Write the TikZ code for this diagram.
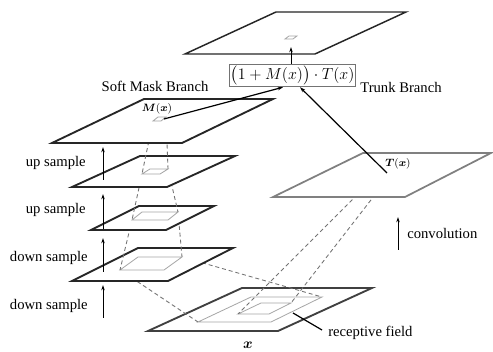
\documentclass[tikz,border=0pt]{standalone}
\usepackage{fontspec}
\setmainfont{Liberation Serif}
\usepackage{amsmath}
\usetikzlibrary{arrows.meta,calc}
\tikzset{
  plane/.style={draw=black!85, line width=1.4pt, fill=white, line join=miter},
  xplane/.style={draw=black!75, line width=1.4pt, fill=white, line join=miter},
  tplane/.style={draw=black!50, line width=1.3pt, fill=white, line join=miter},
  outplane/.style={draw=black!85, line width=1.1pt, fill=white, line join=miter},
  field/.style={draw=black!35, line width=0.6pt},
  proj/.style={draw=black!55, line width=0.65pt, dash pattern=on 3pt off 2.2pt},
  uparrow/.style={draw=black, line width=0.7pt, -{Stealth[length=4pt,width=2.6pt]}},
  lbl/.style={font=\fontsize{11}{13}\selectfont, inner sep=0pt},
  small/.style={font=\fontsize{8.5}{10}\selectfont, inner sep=0pt},
}
\begin{document}
\begin{tikzpicture}[x=0.75pt,y=-0.75pt]
\useasboundingbox (0,0) rectangle (493,352);

% ---- input plane x
\draw[xplane] (242,288) -- (372,288) -- (278,331) -- (148,331) -- cycle;
\coordinate (xoTL) at (251,297); \coordinate (xoTR) at (322,297);
\coordinate (xoBR) at (271,322); \coordinate (xoBL) at (198,322);
\coordinate (xiTL) at (261,303); \coordinate (xiTR) at (291,303);
\coordinate (xiBR) at (269,314); \coordinate (xiBL) at (238,314);
\draw[field] (xoTL) -- (xoTR) -- (xoBR) -- (xoBL) -- cycle;
\draw[field] (xiTL) -- (xiTR) -- (xiBR) -- (xiBL) -- cycle;

% ---- trunk projections
\coordinate (tsL) at (372,180); \coordinate (tsR) at (388,178);
\draw[proj] (tsL) -- (xiBL);
\draw[proj] (tsR) -- (xiTR);

% ---- plane 4
\coordinate (p4BL) at (120,270); \coordinate (p4TL) at (138,257);
\coordinate (p4TR) at (182,257); \coordinate (p4BR) at (164,270);
\draw[proj] (p4BL) -- (xoBL);
\draw[proj] (p4TR) -- (xoTR);
\draw[plane] (138,248) -- (233,248) -- (168,281) -- (72,281) -- cycle;
\draw[field] (p4BL) -- (p4TL) -- (p4TR) -- (p4BR) -- cycle;

% ---- plane 3
\coordinate (p3BL) at (132,220); \coordinate (p3TL) at (142,212);
\coordinate (p3TR) at (178,212); \coordinate (p3BR) at (168,220);
\draw[proj] (p3BL) -- (p4BL);
\draw[proj] (p3TR) -- (p4TR);
\draw[plane] (139,206) -- (214,206) -- (166,230) -- (91,230) -- cycle;
\draw[field] (p3BL) -- (p3TL) -- (p3TR) -- (p3BR) -- cycle;

% ---- plane 2
\coordinate (p2BL) at (142,174); \coordinate (p2TL) at (150,169);
\coordinate (p2TR) at (168,169); \coordinate (p2BR) at (160,174);
\draw[proj] (p2BL) -- (p3BL);
\draw[proj] (p2TR) -- (p3TR);
\draw[plane] (140,156) -- (235,156) -- (167,187) -- (72,187) -- cycle;
\draw[field] (p2BL) -- (p2TL) -- (p2TR) -- (p2BR) -- cycle;

% ---- plane 1 (M(x))
\coordinate (p1BL) at (153,121); \coordinate (p1TL) at (158,117);
\coordinate (p1TR) at (166,117); \coordinate (p1BR) at (161,121);
\draw[proj] (p1BL) -- (p2BL);
\draw[proj] (p1TR) -- (p2TR);
\draw[plane] (144,99) -- (273,99) -- (182,143) -- (52,143) -- cycle;
\draw[field] (p1BL) -- (p1TL) -- (p1TR) -- (p1BR) -- cycle;
\node[small] (mlbl) at (157,109) {$\boldsymbol{M}(\boldsymbol{x})$};

% ---- trunk plane T(x)
\draw[tplane] (363,153) -- (491,153) -- (405,197) -- (273,197) -- cycle;
\node[small] (tlbl) at (398,164) {$\boldsymbol{T}(\boldsymbol{x})$};
\coordinate (tsrc) at (387,173);

% ---- output plane
\draw[outplane] (276,12) -- (406,12) -- (315,54) -- (185,54) -- cycle;
\coordinate (oBL) at (285,39); \coordinate (oTL) at (289,36);
\coordinate (oTR) at (297,36); \coordinate (oBR) at (293,39);
\draw[field] (oBL) -- (oTL) -- (oTR) -- (oBR) -- cycle;
\coordinate (otgt) at (291,47);

% ---- formula box
\node[draw=black!55, line width=0.6pt, fill=white, minimum width=91pt,
      minimum height=17pt, inner sep=1pt, font=\fontsize{12}{14}\selectfont]
  (fbox) at (292.5,75.5) {$\bigl(1+M(x)\bigr)\cdot T(x)$};

% ---- connectors to/from formula
\coordinate (msrc) at (164,119);
\draw[uparrow, line width=0.9pt] (msrc) -- ($(fbox.south)+(-9.5,0)$);
\draw[uparrow, line width=0.9pt] (tsrc) -- ($(fbox.south)+(7.5,0)$);
\draw[uparrow] ($(fbox.north)+(-1.5,0)$) -- (otgt);

% ---- branch labels
\node[lbl] (softlbl) at (155,86) {Soft Mask Branch};
\node[lbl] (trunklbl) at (401,87) {Trunk Branch};

% ---- left arrows and labels
\coordinate (a1s) at (103,180); \coordinate (a1e) at (103,147);
\coordinate (a2s) at (103,229); \coordinate (a2e) at (103,194);
\coordinate (a3s) at (103,272); \coordinate (a3e) at (103,238);
\coordinate (a4s) at (103,318); \coordinate (a4e) at (103,285);
\draw[uparrow] (a1s) -- (a1e);
\draw[uparrow] (a2s) -- (a2e);
\draw[uparrow] (a3s) -- (a3e);
\draw[uparrow] (a4s) -- (a4e);
\node[lbl, anchor=east] (l1) at (86,163) {up sample};
\node[lbl, anchor=east] (l2) at (86,210) {up sample};
\node[lbl, anchor=east] (l3) at (88,258) {down sample};
\node[lbl, anchor=east] (l4) at (88,306) {down sample};

% ---- convolution
\coordinate (cs) at (398,250); \coordinate (ce) at (398,217);
\draw[uparrow] (cs) -- (ce);
\node[lbl, anchor=west] (convlbl) at (407,233) {convolution};

% ---- receptive field
\node[lbl, anchor=west] (rflbl) at (328,333) {receptive field};
\coordinate (rfpt) at (293,313);
\draw[black, line width=0.9pt] (rflbl.west) ++(-6,-3) coordinate (rfs) (rfs) -- (rfpt);

% ---- x label
\node[font=\fontsize{11}{13}\selectfont, inner sep=0pt] (xlbl) at (248,345) {$\boldsymbol{x}$};
\end{tikzpicture}
\end{document}
